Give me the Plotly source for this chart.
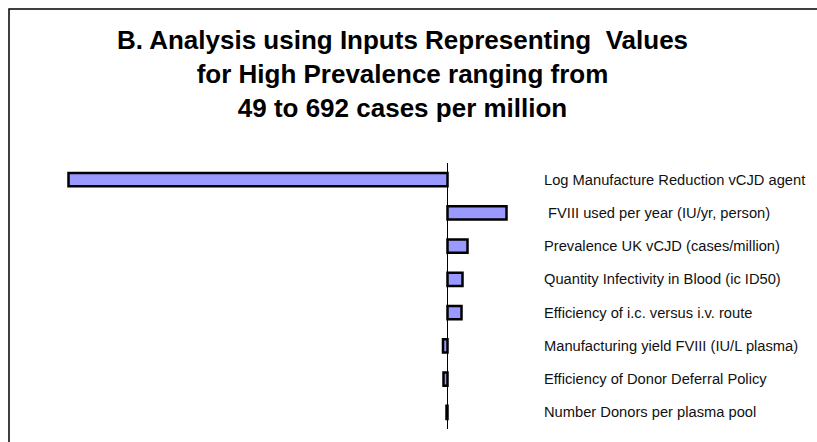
import plotly.graph_objects as go

# Data (relative change; no axis ticks shown in the original)
categories = [
    "Log Manufacture Reduction vCJD agent",
    "\u00a0FVIII used per year (IU/yr, person)",
    "Prevalence UK vCJD (cases/million)",
    "Quantity Infectivity in Blood (ic ID50)",
    "Efficiency of i.c. versus i.v. route",
    "Manufacturing yield FVIII (IU/L plasma)",
    "Efficiency of Donor Deferral Policy",
    "Number Donors per plasma pool",
]
values = [-37.9, 5.9, 2.0, 1.5, 1.4, -0.45, -0.4, -0.1]

title_lines = [
    "B. Analysis using Inputs Representing  Values",
    "for High Prevalence ranging from",
    "49 to 692 cases per million",
]

W, H = 817, 442
L, R, T, B = 60, 287, 163, 13
plot_w = W - L - R
zero_px = 447.5
px_per_unit = 10.0
x_range = [-(zero_px - L) / px_per_unit, (W - R - zero_px) / px_per_unit]

fig = go.Figure()
fig.add_trace(go.Bar(
    x=values,
    y=categories,
    orientation="h",
    width=0.4,
    marker=dict(color="#9999FF", line=dict(color="#000000", width=2.5)),
    showlegend=False,
    hoverinfo="x+y",
))

font_family = "Liberation Sans, Arial, sans-serif"

annotations = []
label_x = (542 - L) / plot_w
for c in categories:
    annotations.append(dict(
        x=label_x, xref="paper", y=c, yref="y",
        text=c, showarrow=False, xanchor="left", yanchor="middle",
        font=dict(family=font_family, size=14.7, color="#111111"),
    ))

fig.update_layout(
    width=W, height=H,
    margin=dict(l=L, r=R, t=T, b=B, autoexpand=False),
    paper_bgcolor="white",
    plot_bgcolor="white",
    title=dict(
        text="<b>" + "<br>".join(title_lines) + "</b>",
        x=402.5 / W, xref="container", xanchor="center",
        y=1 - 49 / H, yref="container", yanchor="middle",
        font=dict(family=font_family, size=26, color="#000000"),
    ),
    xaxis=dict(
        range=x_range, showgrid=False, showticklabels=False, ticks="",
        zeroline=True, zerolinecolor="#000000", zerolinewidth=1,
        showline=False, fixedrange=True,
    ),
    yaxis=dict(
        autorange="reversed", showgrid=False, showticklabels=False, ticks="",
        zeroline=False, showline=False, type="category", fixedrange=True,
    ),
    annotations=annotations,
    shapes=[dict(
        type="rect", xref="paper", yref="paper",
        x0=(9 - L) / plot_w, x1=(W + 20 - L) / plot_w,
        y0=-(H + 20 - (H - B)) / (H - T - B), y1=1 + (T - 9) / (H - T - B),
        line=dict(color="#000000", width=1.5), fillcolor="rgba(0,0,0,0)",
        layer="above",
    )],
)

fig.write_html(
    "out.html",
    config={"displayModeBar": False},
    post_script="document.body.style.margin='0';document.body.style.overflow='hidden';",
)
